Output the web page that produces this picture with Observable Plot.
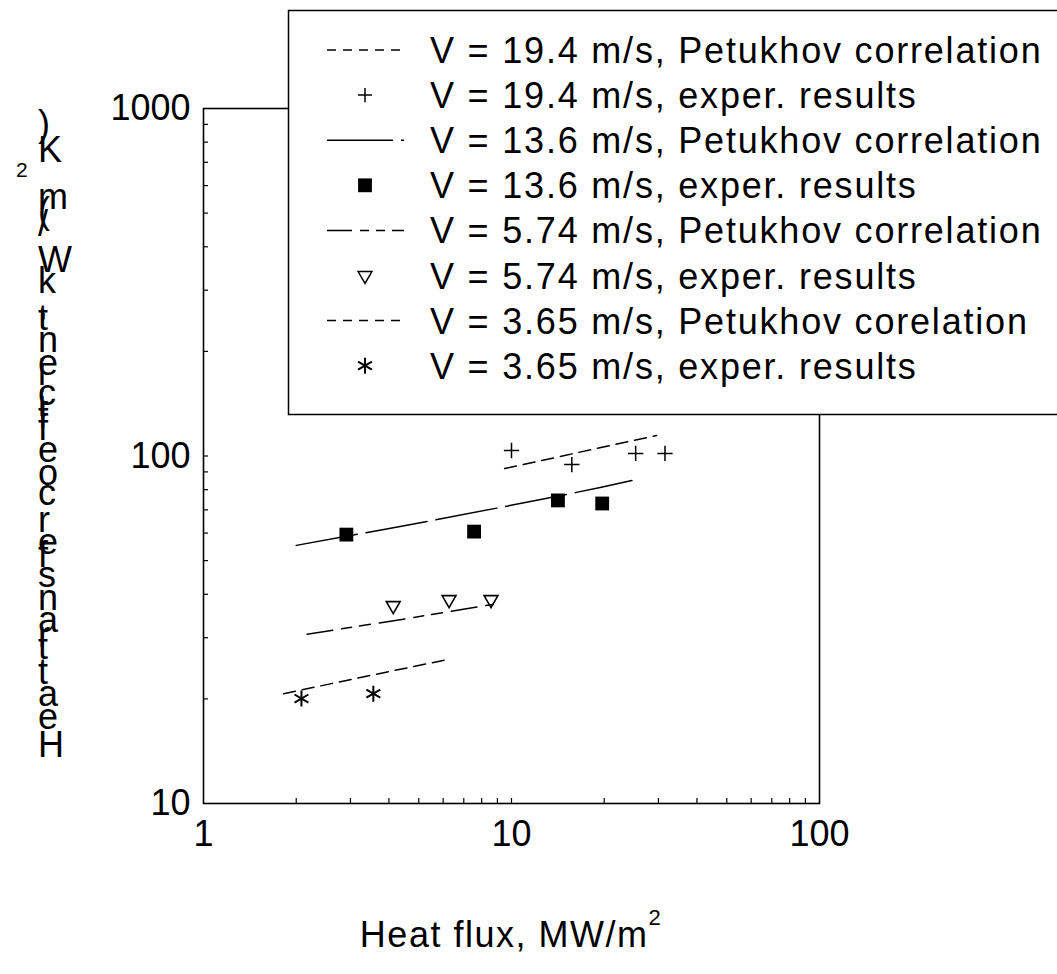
<!DOCTYPE html>
<html><head><meta charset="utf-8">
<script src="https://cdn.jsdelivr.net/npm/d3@7"></script>
<script src="https://cdn.jsdelivr.net/npm/@observablehq/plot@0.6"></script>
<style>
body{margin:0;background:#fff;}
#wrap{width:1057px;height:974px;}
</style></head><body><div id="wrap"></div>
<script>
// ---- data ----
const p194X = [9.5, 15, 22, 29.6];
const p194Y = [92, 100.5, 108.2, 114.6];
const exp194X = [10.0, 15.7, 25.3, 31.5];
const exp194Y = [103.7, 94.5, 101.7, 101.7];

const p136X = [2.0, 4.35, 9.18, 19.4, 24.6];
const p136Y = [55.3, 62.7, 71.1, 81.2, 85.0];
const exp136X = [2.91, 7.56, 14.15, 19.7];
const exp136Y = [59.4, 60.6, 74.5, 73.0];

const p574X = [2.17, 4.35, 8.71];
const p574Y = [30.7, 33.8, 37.4];
const exp574X = [4.13, 6.27, 8.58];
const exp574Y = [37.1, 38.6, 38.6];

const p365X = [1.82, 3.35, 6.13];
const p365Y = [20.7, 23.2, 25.9];
const exp365X = [2.08, 3.56];
const exp365Y = [20.05, 20.7];

const legendLabels = [
  "V = 19.4 m/s, Petukhov correlation",
  "V = 19.4 m/s, exper. results",
  "V = 13.6 m/s, Petukhov correlation",
  "V = 13.6 m/s, exper. results",
  "V = 5.74 m/s, Petukhov correlation",
  "V = 5.74 m/s, exper. results",
  "V = 3.65 m/s, Petukhov corelation",
  "V = 3.65 m/s, exper. results"
];

const xMajor = [1, 10, 100];
const yMajor = [10, 100, 1000];
const xMinor = [2,3,4,5,6,7,8,9,10,20,30,40,50,60,70,80,90];
const yMinor = [20,30,40,50,60,70,80,90,100,200,300,400,500,600,700,800,900];

const yTitle = "Heat transfer coefficient, kW/(m";
const yTitleSup = "2";
const yTitleEnd = "K)";
const xTitle = "Heat flux, MW/m";
const xTitleSup = "2";

// ---- styles ----
const FONT = "'Liberation Sans', Arial, Helvetica, sans-serif";
const dashShort = "12,7";
const dashLong = "62,9";
const dashMixed = "26,9,10,8,11,9";
const PLUS_R = 5.0, SQUARE_R = 7.8, TRI_R = 6.6, AST_R = 7.6;

const rows = (xs, ys) => xs.map((x, i) => ({x, y: ys[i]}));

const plot = Plot.plot({
  width: 1057, height: 974,
  marginLeft: 203, marginRight: 238, marginTop: 108, marginBottom: 171,
  x: {type: "log", domain: [1, 100], label: null},
  y: {type: "log", domain: [10, 1000], label: null},
  style: {fontFamily: FONT, background: "white", color: "black"},
  marks: [
    Plot.axisX({ticks: xMinor, tickSize: -5, tickFormat: () => "", label: null, strokeWidth: 1.2}),
    Plot.axisY({ticks: yMinor, tickSize: -5, tickFormat: () => "", label: null, strokeWidth: 1.2}),
    Plot.axisX({ticks: xMajor, tickSize: 0, tickPadding: 17, fontSize: 36, tickFormat: d => String(d), label: null}),
    Plot.axisY({ticks: yMajor, tickSize: 0, tickPadding: 13, fontSize: 36, tickFormat: d => String(d), label: null}),
    Plot.frame({stroke: "black", strokeWidth: 1.6}),
    Plot.line(rows(p194X, p194Y), {x: "x", y: "y", stroke: "black", strokeWidth: 1.5, strokeDasharray: dashShort}),
    Plot.line(rows(p136X, p136Y), {x: "x", y: "y", stroke: "black", strokeWidth: 1.5, strokeDasharray: dashLong, curve: "monotone-x"}),
    Plot.line(rows(p574X, p574Y), {x: "x", y: "y", stroke: "black", strokeWidth: 1.5, strokeDasharray: dashMixed}),
    Plot.line(rows(p365X, p365Y), {x: "x", y: "y", stroke: "black", strokeWidth: 1.5, strokeDasharray: dashShort}),
    Plot.dot(rows(exp194X, exp194Y), {x: "x", y: "y", symbol: "plus", stroke: "black", strokeWidth: 1.5, r: PLUS_R}),
    Plot.dot(rows(exp136X, exp136Y), {x: "x", y: "y", symbol: "square", fill: "black", r: SQUARE_R}),
    Plot.dot(rows(exp574X, exp574Y), {x: "x", y: "y", symbol: "triangle2", stroke: "black", strokeWidth: 1.6, r: TRI_R, rotate: 180}),
    Plot.dot(rows(exp365X, exp365Y), {x: "x", y: "y", symbol: "asterisk", stroke: "black", strokeWidth: 2, r: AST_R})
  ]
});
document.getElementById("wrap").appendChild(plot);

const svg = d3.select(plot);

// ---- legend (drawn on top, overlapping the frame as in the original) ----
const lg = svg.append("g").attr("font-family", FONT).attr("text-anchor", "start");
lg.append("rect").attr("x", 288.5).attr("y", 10.5).attr("width", 800).attr("height", 404)
  .attr("fill", "white").attr("stroke", "black").attr("stroke-width", 1.5);

const legendStyles = [
  {kind: "line", dash: "9,7"},
  {kind: "sym", type: d3.symbolPlus, r: 4.6, stroke: true},
  {kind: "line", dash: "66,8"},
  {kind: "sym", type: d3.symbolSquare, r: SQUARE_R, fill: true},
  {kind: "line", dash: "25,8,9,7,9,7"},
  {kind: "sym", type: d3.symbolTriangle2, r: TRI_R, stroke: true, rotate: 180},
  {kind: "line", dash: "9,7"},
  {kind: "sym", type: d3.symbolAsterisk, r: AST_R, stroke: true, sw: 2}
];
legendLabels.forEach((label, i) => {
  const cy = 50 + i * 45.1;
  const s = legendStyles[i];
  if (s.kind === "line") {
    lg.append("line").attr("x1", 327).attr("x2", 404).attr("y1", cy).attr("y2", cy)
      .attr("stroke", "black").attr("stroke-width", 1.5).attr("stroke-dasharray", s.dash);
  } else {
    const p = lg.append("path")
      .attr("d", d3.symbol(s.type, Math.PI * s.r * s.r)())
      .attr("transform", `translate(365,${cy})` + (s.rotate ? ` rotate(${s.rotate})` : ""));
    if (s.fill) p.attr("fill", "black");
    else p.attr("fill", "none").attr("stroke", "black").attr("stroke-width", s.sw || 1.5);
  }
  lg.append("text").attr("x", 430).attr("y", cy + 13).attr("font-size", 36)
    .attr("text-anchor", "start")
    .attr("letter-spacing", "1.8px").attr("fill", "black").text(label);
});

// ---- y-axis title: upright glyphs stacked along a rotated baseline ----
const yt = svg.append("text")
  .attr("transform", "translate(38,757) rotate(-90)")
  .attr("rotate", "90")
  .attr("text-anchor", "start")
  .attr("font-family", FONT).attr("font-size", 36).attr("letter-spacing", "2.4px").attr("fill", "black");
yt.append("tspan").text(yTitle);
yt.append("tspan").attr("dy", -22).attr("font-size", 21).text(yTitleSup);
yt.append("tspan").attr("dy", 22).text(yTitleEnd);

// ---- x-axis title ----
const xt = svg.append("text")
  .attr("x", 511).attr("y", 947).attr("text-anchor", "middle")
  .attr("font-family", FONT).attr("font-size", 36).attr("letter-spacing", "1.5px").attr("fill", "black");
xt.append("tspan").text(xTitle);
xt.append("tspan").attr("dy", -22).attr("font-size", 22).text(xTitleSup);
</script></body></html>
